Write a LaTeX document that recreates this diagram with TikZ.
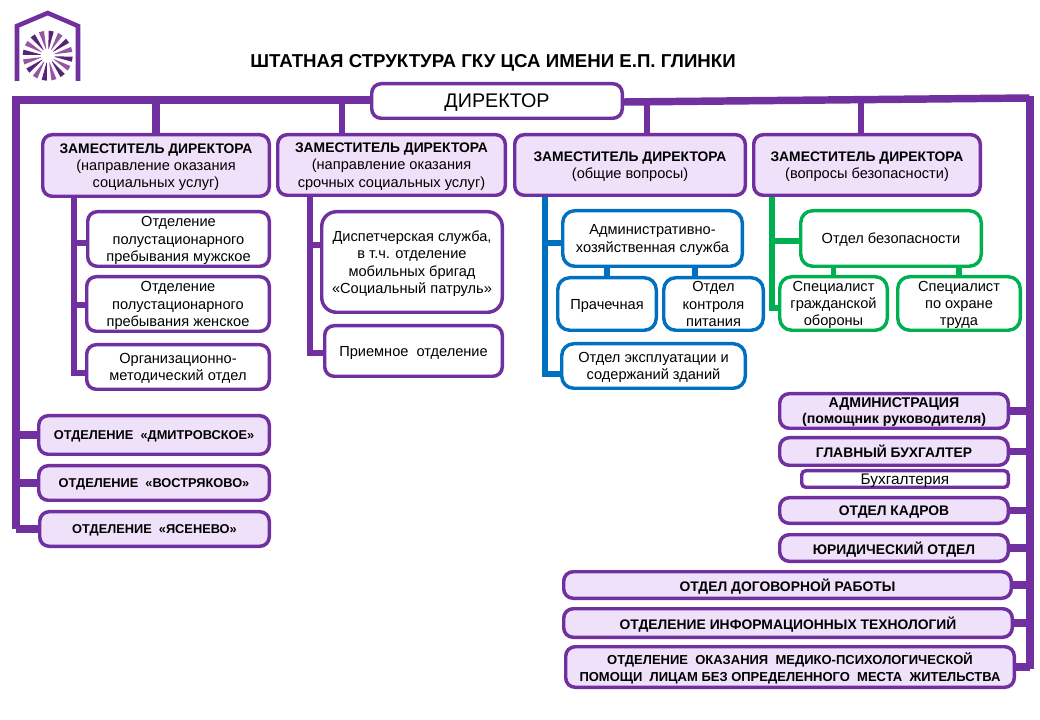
\documentclass[tikz,border=0pt]{standalone}
\usepackage{fontspec}
\setmainfont{Liberation Sans}
\definecolor{violet}{RGB}{112,48,160}
\definecolor{lilac}{RGB}{239,225,250}
\definecolor{petrol}{RGB}{0,112,192}
\definecolor{leaf}{RGB}{0,176,80}
\definecolor{orchid}{RGB}{150,85,165}
\definecolor{plum}{RGB}{88,36,120}
\newcommand{\deputy}{{\bfseries\fontsize{10.4}{13}\selectfont ЗАМЕСТИТЕЛЬ ДИРЕКТОРА}}
\tikzset{
    dim/.style 2 args={minimum width=#1*0.75pt-2.6pt, minimum height=#2*0.75pt-2.6pt},
    unit/.style={draw=violet, line width=2.6pt, rounded corners=7pt, align=center, inner sep=0pt, text depth=-0.4pt, font=\fontsize{10.95}{13}\selectfont},
    head/.style={unit, fill=lilac},
    plain/.style={unit, fill=white},
    branch/.style={head, font=\bfseries\fontsize{9.6}{12}\selectfont},
    caps/.style={head, font=\bfseries\fontsize{10.4}{12}\selectfont},
    blueunit/.style={plain, draw=petrol},
    greenunit/.style={plain, draw=leaf},
    bus/.style={draw=violet, line width=5.6pt},
    rib/.style={draw=violet, line width=4pt},
    bluerib/.style={draw=petrol, line width=4pt},
    greenrib/.style={draw=leaf, line width=4pt},
}
\begin{document}
\begin{tikzpicture}[x=0.75pt,y=-0.75pt]
    \useasboundingbox (0,0) rectangle (1040,720);
    %logo
    \draw[violet, line width=3.4pt] (17,81) -- (17,26) -- (47.7,13) -- (78,26) -- (78,81);
    \begin{scope}[shift={(47.7,55.7)}]
    \foreach \a in {0,45,...,315} {
        \fill[plum] (\a+6:7) -- (\a+2:25) -- (\a+14:25) -- (\a+10:7) -- cycle;
        \fill[orchid] (\a+28.5:7) -- (\a+24.5:25) -- (\a+36.5:25) -- (\a+32.5:7) -- cycle;
    }
    \end{scope}
    \node[font=\bfseries\fontsize{14}{16}\selectfont] (Title) at (493,63) {ШТАТНАЯ СТРУКТУРА ГКУ ЦСА ИМЕНИ Е.П. ГЛИНКИ};

    \node[plain, dim={254}{38}, font=\fontsize{14.8}{16}\selectfont] (Director) at (497,101) {ДИРЕКТОР};

    \node[head, dim={230}{65}] (DepSocial) at (156,165.5) {\deputy\\(направление оказания\\социальных услуг)};
    \node[head, dim={231}{64}] (DepUrgent) at (391.5,165) {\deputy\\(направление оказания\\срочных социальных услуг)};
    \node[head, dim={234}{64}] (DepGeneral) at (630,165) {\deputy\\(общие вопросы)};
    \node[head, dim={230}{64}] (DepSafety) at (867,165) {\deputy\\(вопросы безопасности)};

    \node[plain, dim={185}{58}] (Men) at (178.5,239) {Отделение\\полустационарного\\пребывания мужское};
    \node[plain, dim={186}{58}] (Women) at (178,304) {Отделение\\полустационарного\\пребывания женское};
    \node[plain, dim={186}{48}] (Method) at (178,367) {Организационно-\\методический отдел};

    \node[branch, dim={234}{42}] (Dmitrov) at (154,435) {ОТДЕЛЕНИЕ \ «ДМИТРОВСКОЕ»};
    \node[branch, dim={234}{38}] (Vostr) at (154,483) {ОТДЕЛЕНИЕ \ «ВОСТРЯКОВО»};
    \node[branch, dim={233}{38}] (Yasen) at (154.5,529) {ОТДЕЛЕНИЕ \ «ЯСЕНЕВО»};

    \node[plain, dim={184}{104}, rounded corners=11pt] (Dispatch) at (412,262) {Диспетчерская служба,\\в т.ч. отделение\\мобильных бригад\\«Социальный патруль»};
    \node[plain, dim={181}{54}] (Reception) at (413.5,351) {Приемное \ отделение};

    \node[blueunit, dim={183}{59}, rounded corners=9pt] (Admin) at (652.5,238.5) {Административно-\\хозяйственная служба};
    \node[blueunit, dim={102}{56}, rounded corners=9pt] (Laundry) at (607,304) {Прачечная};
    \node[blueunit, dim={103}{56}, rounded corners=9pt] (Food) at (713.5,304) {Отдел\\контроля\\питания};
    \node[blueunit, dim={187}{48}, rounded corners=9pt] (Maint) at (653.5,366) {Отдел эксплуатации и\\содержаний зданий};

    \node[greenunit, dim={184}{59}, rounded corners=9pt] (Security) at (891,238.5) {Отдел безопасности};
    \node[greenunit, dim={111}{57}, rounded corners=9pt] (Civil) at (833.5,303.5) {Специалист\\гражданской\\обороны};
    \node[greenunit, dim={126}{57}, rounded corners=9pt] (Labour) at (959,303.5) {Специалист\\по охране\\труда};

    \node[caps, dim={232}{38}, font=\bfseries\fontsize{10.6}{12}\selectfont] (Office) at (894,411) {АДМИНИСТРАЦИЯ\\(помощник руководителя)};
    \node[caps, dim={232}{31}] (Chief) at (894,451.5) {ГЛАВНЫЙ БУХГАЛТЕР};
    \node[plain, dim={210}{20}, rounded corners=3pt, font=\fontsize{11.5}{13}\selectfont] (Account) at (905,479) {Бухгалтерия};
    \node[caps, dim={232}{29}] (Staff) at (894,510.5) {ОТДЕЛ КАДРОВ};
    \node[caps, dim={232}{30}] (Legal) at (894,548) {ЮРИДИЧЕСКИЙ ОТДЕЛ};
    \node[caps, dim={451}{30}] (Contract) at (787.5,585) {ОТДЕЛ ДОГОВОРНОЙ РАБОТЫ};
    \node[caps, dim={452}{32}] (Info) at (788,623) {ОТДЕЛЕНИЕ ИНФОРМАЦИОННЫХ ТЕХНОЛОГИЙ};
    \node[head, dim={452}{44}, font=\bfseries\fontsize{9.75}{12.3}\selectfont] (Medic) at (790,667) {ОТДЕЛЕНИЕ \ ОКАЗАНИЯ \ МЕДИКО-ПСИХОЛОГИЧЕСКОЙ\\ПОМОЩИ \ ЛИЦАМ БЕЗ ОПРЕДЕЛЕННОГО \ МЕСТА \ ЖИТЕЛЬСТВА};

    \coordinate (LeftTop) at (16,100);
    \coordinate (LeftEnd) at (16,529);
    \coordinate (RightTop) at (1029.5,96);
    \coordinate (RightEnd) at (1029.5,669);
    \coordinate (DropUrgent) at (342,100);
    \coordinate (DropGeneral) at (647,102);
    \coordinate (DropSafety) at (861,100);
    \coordinate (StemSocial) at (74,197);
    \coordinate (StemUrgent) at (310,197);
    \coordinate (StemGeneral) at (545,197);
    \coordinate (StemSafety) at (772,197);
    \coordinate (KneeMethod) at (74,373);
    \coordinate (KneeReception) at (310,353);
    \coordinate (KneeMaint) at (545,374);
    \coordinate (KneeCivil) at (772,308);
    \coordinate (JoinMen) at (74,243);
    \coordinate (JoinWomen) at (74,305);
    \coordinate (JoinDispatch) at (310,245);
    \coordinate (JoinAdmin) at (545,243);
    \coordinate (JoinSecurity) at (772,241);
    \coordinate (JoinFood) at (695,270);

    \draw[bus] (Director.west |- LeftTop) -- (LeftTop) -- (LeftEnd);
    \draw[bus] (Director.east |- 0,102) -- (1029.5,98);
    \draw[bus, line width=6pt] (RightTop) -- (RightEnd);
    \draw[bus] (DepSocial.north) to (DepSocial.north |- LeftTop);
    \draw[bus, line width=5pt] (DropUrgent) to (DropUrgent |- DepUrgent.north);
    \draw[bus, line width=5pt] (DropGeneral) to (DropGeneral |- DepGeneral.north);
    \draw[bus, line width=5pt] (DropSafety) to (DropSafety |- DepSafety.north);

    \draw[bus] (LeftEnd |- Dmitrov) to (Dmitrov.west);
    \draw[bus] (LeftEnd |- Vostr) to (Vostr.west);
    \draw[bus] (LeftEnd) to (Yasen.west);

    \foreach \n in {Office,Chief,Staff,Legal,Contract,Info,Medic} {
        \draw[bus] (\n.east) to (RightEnd |- \n);
    }

    \draw[rib] (StemSocial) -- (KneeMethod) -- (KneeMethod -| Method.west);
    \draw[rib] (JoinMen) to (JoinMen -| Men.west);
    \draw[rib] (JoinWomen) to (JoinWomen -| Women.west);
    \draw[rib] (StemUrgent) -- (KneeReception) -- (KneeReception -| Reception.west);
    \draw[rib] (JoinDispatch) to (JoinDispatch -| Dispatch.west);

    \draw[bluerib] (StemGeneral) -- (KneeMaint) -- (KneeMaint -| Maint.west);
    \draw[bluerib] (JoinAdmin) to (JoinAdmin -| Admin.west);
    \draw[bluerib] (Laundry.north) to (Laundry.north |- Admin.south);
    \draw[bluerib] (JoinFood |- Food.north) to (JoinFood |- Admin.south);

    \draw[greenrib] (StemSafety) -- (KneeCivil) -- (KneeCivil -| Civil.west);
    \draw[greenrib] (JoinSecurity) to (JoinSecurity -| Security.west);
    \draw[greenrib] (Civil.north) to (Civil.north |- Security.south);
    \draw[greenrib] (Labour.north) to (Labour.north |- Security.south);
\end{tikzpicture}
\end{document}
